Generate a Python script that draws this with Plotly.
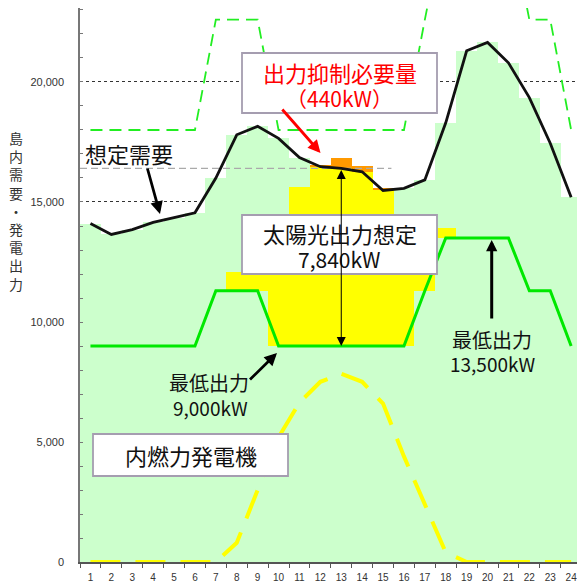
import numpy as np
import plotly.graph_objects as go

# ---- data (kW) -------------------------------------------------------------
hours = list(range(1, 25))
hour_labels = [str(h) for h in hours]

# 想定需要
demand = [14100, 13650, 13850, 14150, 14350, 14550, 16000, 17800, 18150, 17650,
          16850, 16470, 16400, 16260, 15480, 15570, 15920, 18300, 21300, 21650,
          20800, 19350, 17450, 15200]

# 太陽光出力想定
solar = [0, 0, 0, 0, 0, 0, 0, 800, 3000, 5200, 6640, 7510,
         7840, 7510, 6600, 4400, 2400, 400, 0, 0, 0, 0, 0, 0]

# 内燃力発電機 最低出力
min_output = [9000, 9000, 9000, 9000, 9000, 9000, 11300, 11300, 11300, 9000,
              9000, 9000, 9000, 9000, 9000, 9000, 11300, 13500, 13500, 13500,
              13500, 11300, 11300, 9000]

# 内燃力発電機 最大出力
max_output = [18000, 18000, 18000, 18000, 18000, 18000, 22600, 22600, 22600, 18000,
              18000, 18000, 18000, 18000, 18000, 18000, 22600, 27000, 27000, 27000,
              27000, 22600, 22600, 18000]

y_ticks = [0, 5000, 10000, 15000, 20000]
y_tick_labels = ["0", "5,000", "10,000", "15,000", "20,000"]

# ---- derived stacks --------------------------------------------------------
d = np.array(demand, dtype=float)
s = np.array(solar, dtype=float)
m = np.array(min_output, dtype=float)
top = m + s
solar_used = np.where(s > 0, np.minimum(top, d) - m, np.nan)
curtail = np.where(top - d > 0, top - d, np.nan)
peak = int(np.nanargmax(curtail))  # hour index with the largest curtailment

# ---- figure geometry -------------------------------------------------------
FIG_W, FIG_H = 577, 584
ML, MR, MT, MB = 80, 0, 8, 22
PW, PH = FIG_W - ML - MR, FIG_H - MT - MB


def fx(px):
    return (px - ML) / PW


def fy(py):
    return (FIG_H - MB - py) / PH


JP = "Noto Sans CJK JP"
BOX_LINE = "#A59DB0"

fig = go.Figure()

# demand bars (内燃力発電機 area)
fig.add_trace(go.Bar(x=hours, y=demand, width=1, marker=dict(color="#CCFFCC", line=dict(width=0)),
                     hoverinfo="skip"))
# solar output stacked on the minimum output
fig.add_trace(go.Bar(x=hours, y=solar_used, base=min_output, width=1,
                     marker=dict(color="#FFFF00", line=dict(width=0)), hoverinfo="skip"))
# curtailment above demand
fig.add_trace(go.Bar(x=hours, y=curtail, base=demand, width=1,
                     marker=dict(color="#FF9900", line=dict(width=0)), hoverinfo="skip"))

# reference level of demand at the curtailment hour
fig.add_trace(go.Scatter(x=[0.5, 15.4], y=[demand[peak], demand[peak]], mode="lines",
                         line=dict(color="#AAAAAA", width=1.3, dash="7px,4px"), hoverinfo="skip"))

# maximum output (dashed) and minimum output (solid)
fig.add_trace(go.Scatter(x=hours, y=max_output, mode="lines",
                         line=dict(color="#22EE22", width=1.8, dash="12px,7px"), hoverinfo="skip"))
fig.add_trace(go.Scatter(x=hours, y=min_output, mode="lines",
                         line=dict(color="#00E800", width=3), hoverinfo="skip"))
# solar forecast curve
fig.add_trace(go.Scatter(x=hours, y=solar, mode="lines",
                         line=dict(color="#FFFF00", width=4, dash="30px,15px"), hoverinfo="skip"))
# demand forecast
fig.add_trace(go.Scatter(x=hours, y=demand, mode="lines",
                         line=dict(color="#111111", width=2.8), hoverinfo="skip"))

shapes = []
for x0, y0, x1, y1 in [(242, 53, 437, 113), (242, 215, 437, 274), (93, 434, 288, 476)]:
    shapes.append(dict(type="rect", xref="paper", yref="paper",
                       x0=fx(x0), x1=fx(x1), y0=fy(y1), y1=fy(y0),
                       fillcolor="white", line=dict(color=BOX_LINE, width=1.8), layer="above"))

annotations = []


def text(t, px, py, size, color="#111111"):
    annotations.append(dict(text=t, xref="paper", yref="paper", x=fx(px), y=fy(py),
                            xanchor="center", yanchor="middle", showarrow=False,
                            font=dict(family=JP, size=size, color=color)))


def arrow(tx, ty, hx, hy, color, width, size):
    annotations.append(dict(text="", xref="paper", yref="paper", x=fx(hx), y=fy(hy),
                            ax=tx - hx, ay=ty - hy, axref="pixel", ayref="pixel",
                            showarrow=True, arrowhead=2, arrowsize=size, arrowwidth=width,
                            arrowcolor=color, standoff=0, startstandoff=0))


text("出力抑制必要量", 339.5, 72, 22, "#FF0000")
text("（{}kW）".format(int(round(np.nanmax(curtail)))), 339.5, 98, 21, "#FF0000")
text("太陽光出力想定", 339.5, 233, 22)
text("{:,}kW".format(solar[peak]), 339.5, 259, 21)
text("内燃力発電機", 191, 455, 22)
text("想定需要", 129, 153, 22)
text("最低出力", 209, 382, 20)
text("9,000kW", 210, 407, 19)
text("最低出力", 492, 339, 20)
text("13,500kW", 492, 363, 19)

arrow(281, 108, 320.5, 153, "#FF0000", 2.8, 0.9)
arrow(147, 167, 160, 214, "#000000", 2.8, 0.9)
arrow(248.5, 381, 277, 353, "#000000", 2.8, 0.9)
arrow(491.7, 320, 491.7, 240, "#000000", 3, 0.75)

# double arrow for the solar output at the curtailment hour
annotations.append(dict(text="", xref="x", yref="y", x=hours[peak], y=min_output[peak],
                        ax=hours[peak], ay=demand[peak], axref="x", ayref="y",
                        showarrow=True, arrowhead=2, arrowside="end+start", arrowsize=1.8,
                        arrowwidth=1, arrowcolor="#000000", standoff=0, startstandoff=0))

# vertical axis title, one character per line
annotations.append(dict(text="<br>".join("島内需要・発電出力"), xref="paper", yref="paper",
                        x=fx(16), y=fy(210.5), xanchor="center", yanchor="middle",
                        showarrow=False, font=dict(family=JP, size=14, color="#333333")))

fig.update_layout(
    width=FIG_W, height=FIG_H,
    margin=dict(l=ML, r=MR, t=MT, b=MB),
    paper_bgcolor="white", plot_bgcolor="white",
    barmode="overlay", bargap=0, showlegend=False,
    shapes=shapes, annotations=annotations,
)
fig.update_xaxes(
    range=[0.5, 0.5 + PW / 20.9], tickmode="array", tickvals=hours, ticktext=hour_labels,
    ticks="", ticklabelstandoff=5, ticklabeloverflow="allow",
    showgrid=False, zeroline=False, showline=True, linecolor="#555555", linewidth=1.5,
    tickfont=dict(family="Liberation Sans", size=10, color="#333333"),
    minor=dict(tickmode="linear", tick0=0.5, dtick=1, ticks="outside", ticklen=4,
               tickcolor="#555555", showgrid=False),
)
fig.update_yaxes(
    range=[0, 23083], tickmode="array", tickvals=y_ticks, ticktext=y_tick_labels,
    ticks="inside", ticklen=3, tickcolor="#777777", ticklabelstandoff=12,
    showgrid=True, gridcolor="#333333", griddash="dot", gridwidth=1.2, zeroline=False,
    showline=True, linecolor="#777777", linewidth=1.5,
    tickfont=dict(family="Liberation Sans", size=11, color="#333333"),
    minor=dict(tickmode="linear", tick0=0, dtick=1000, ticks="inside", ticklen=3,
               tickcolor="#777777", showgrid=False),
)

fig.write_html("out.html")
